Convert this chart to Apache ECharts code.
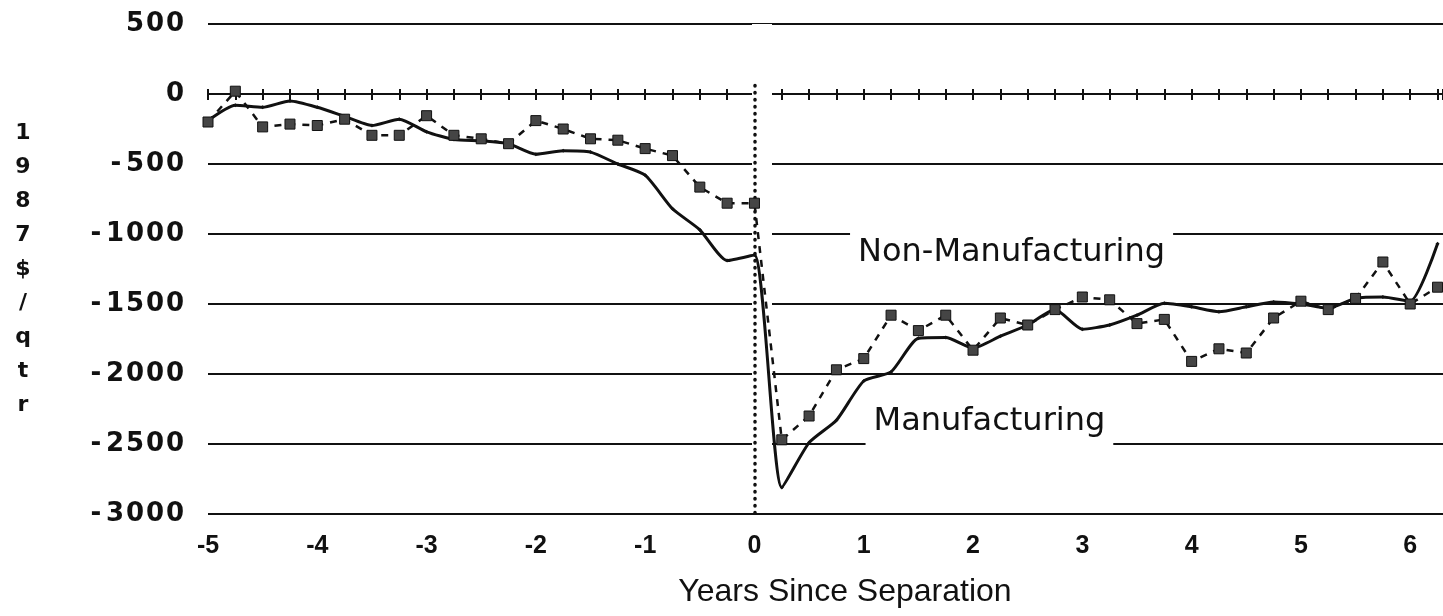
<!DOCTYPE html>
<html><head><meta charset="utf-8">
<script src="https://cdn.jsdelivr.net/npm/echarts@6/dist/echarts.min.js"></script>
<style>html,body{margin:0;padding:0;background:#fff}#c{width:1443px;height:616px}</style>
</head><body><div id="c"></div>
<script>
// Quarters relative to separation (years)
const quarters = [-5, -4.75, -4.5, -4.25, -4, -3.75, -3.5, -3.25, -3, -2.75, -2.5, -2.25,
  -2, -1.75, -1.5, -1.25, -1, -0.75, -0.5, -0.25, 0,
  0.25, 0.5, 0.75, 1, 1.25, 1.5, 1.75, 2, 2.25, 2.5, 2.75, 3, 3.25, 3.5, 3.75,
  4, 4.25, 4.5, 4.75, 5, 5.25, 5.5, 5.75, 6, 6.25];
// Earnings change, 1987$/qtr
const manufacturing = [-190, -80, -95, -50, -95, -160, -225, -180, -270, -325, -335, -355,
  -430, -405, -415, -500, -580, -820, -970, -1190, -1150,
  -2810, -2490, -2330, -2050, -1985, -1745, -1740, -1815, -1730, -1650, -1540, -1680, -1650, -1580, -1495,
  -1520, -1555, -1520, -1485, -1500, -1530, -1460, -1450, -1480, -1070];
const nonManufacturing = [-200, 20, -235, -215, -225, -180, -295, -295, -155, -295, -320, -355,
  -190, -250, -320, -330, -390, -440, -665, -780, -780,
  -2470, -2300, -1970, -1890, -1580, -1690, -1580, -1830, -1600, -1650, -1540, -1450, -1470, -1640, -1610,
  -1910, -1820, -1850, -1600, -1480, -1540, -1460, -1200, -1500, -1380];
const seriesNames = ['Manufacturing', 'Non-Manufacturing'];
const yTicks = [500, 0, -500, -1000, -1500, -2000, -2500, -3000];
const xTicks = [-5, -4, -3, -2, -1, 0, 1, 2, 3, 4, 5, 6];
const yTitle = '1987$/qtr';
const xTitle = 'Years Since Separation';

const INK = '#111';
const yMin = Math.min(...yTicks), yMax = Math.max(...yTicks);
const yStep = yTicks[0] - yTicks[1];
const xMin = xTicks[0], xMax = 6.3;

const chart = echarts.init(document.getElementById('c'), null, {renderer: 'canvas'});

const tickAxis = (inside, len) => ({
  type: 'value', min: xMin, max: xMax, interval: 0.25, position: 'bottom',
  axisLine: {show: true, onZero: true, onZeroAxisIndex: 0, lineStyle: {color: INK, width: 2}},
  axisTick: {show: true, inside: inside, length: len, lineStyle: {color: INK, width: 2}},
  axisLabel: {show: false}, splitLine: {show: false}
});

const option = {
  backgroundColor: '#fff',
  animation: false,
  grid: {left: 208, right: 0, top: 24, bottom: 102},
  xAxis: [
    {
      type: 'value', min: xMin, max: xMax, interval: 1, position: 'bottom',
      axisLine: {show: false, onZero: false}, axisTick: {show: false}, splitLine: {show: false},
      axisLabel: {show: true, showMaxLabel: false, margin: 20, color: INK,
        fontFamily: 'Liberation Sans', fontSize: 25, fontWeight: 'bold'},
      name: xTitle, nameLocation: 'middle', nameGap: 62,
      nameTextStyle: {color: INK, fontFamily: 'Liberation Sans', fontSize: 32, padding: [0, 0, 0, 39]}
    },
    tickAxis(false, 6),
    tickAxis(true, 5)
  ],
  yAxis: {
    type: 'value', min: yMin, max: yMax, interval: yStep,
    axisLine: {show: false}, axisTick: {show: false},
    splitLine: {show: true, lineStyle: {color: INK, width: 2}},
    axisLabel: {
      margin: 23, color: INK,
      formatter: v => String(v).split('').map(ch => ch === '-' ? '{m|-}' : '{d|' + ch + '}').join(''),
      rich: {
        d: {width: 20, align: 'center', fontFamily: 'DejaVu Sans', fontSize: 26, fontWeight: 'bold', color: INK},
        m: {width: 18, align: 'center', fontFamily: 'DejaVu Sans', fontSize: 26, fontWeight: 'bold', color: INK}
      }
    },
    name: yTitle.split('').join('\n'), nameLocation: 'middle', nameRotate: 0, nameGap: 185,
    nameTextStyle: {color: INK, fontFamily: 'DejaVu Sans', fontSize: 22, fontWeight: 'bold',
      lineHeight: 34, align: 'center', verticalAlign: 'middle'}
  },
  series: [
    {
      name: 'separation', type: 'line', data: [], z: 1, silent: true,
      markLine: {
        silent: true, z: 1, symbol: ['none', 'none'], label: {show: false},
        data: [
          [{coord: [0.07, yMax], lineStyle: {color: '#fff', width: 20, type: 'solid'}}, {coord: [0.07, -2990]}],
          [{coord: [0, 60], lineStyle: {color: INK, width: 3.5, type: [0.5, 6.5], cap: 'round'}}, {coord: [0, yMin]}]
        ]
      }
    },
    {
      name: seriesNames[0], type: 'line', z: 3,
      data: quarters.map((q, i) => [q, manufacturing[i]]),
      smooth: 0.2,
      symbol: 'diamond', symbolSize: 4, showAllSymbol: true,
      itemStyle: {color: INK},
      lineStyle: {color: INK, width: 3},
      markPoint: {
        symbol: 'rect', symbolSize: 1, itemStyle: {color: 'rgba(0,0,0,0)'},
        data: [{coord: [1.012, -2339], value: 0}],
        label: {show: true, position: 'right', distance: 0, formatter: () => seriesNames[0],
          color: INK, fontFamily: 'DejaVu Sans', fontSize: 32, backgroundColor: '#fff', padding: [9, 8, 9, 8]}
      }
    },
    {
      name: seriesNames[1], type: 'line', z: 4,
      data: quarters.map((q, i) => [q, nonManufacturing[i]]),
      symbol: 'rect', symbolSize: 10, showAllSymbol: true,
      itemStyle: {color: '#454545', borderColor: INK, borderWidth: 1},
      lineStyle: {color: INK, width: 2.5, type: [7, 7]},
      markPoint: {
        symbol: 'rect', symbolSize: 1, itemStyle: {color: 'rgba(0,0,0,0)', borderWidth: 0},
        data: [{coord: [0.87, -1136], value: 0}],
        label: {show: true, position: 'right', distance: 0, formatter: () => seriesNames[1],
          color: INK, fontFamily: 'DejaVu Sans', fontSize: 32, backgroundColor: '#fff', padding: [9, 8, 9, 8]}
      }
    }
  ]
};
chart.setOption(option);
</script>
</body></html>
